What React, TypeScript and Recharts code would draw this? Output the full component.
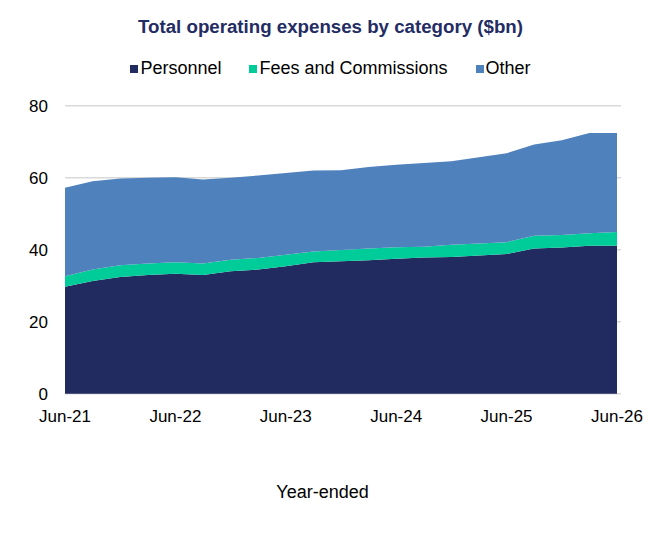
import { AreaChart, Area, XAxis, YAxis, CartesianGrid } from "recharts";

// quarterly, year-ended
const QUARTERS = [
  "Jun-21", "Sep-21", "Dec-21", "Mar-22", "Jun-22", "Sep-22", "Dec-22",
  "Mar-23", "Jun-23", "Sep-23", "Dec-23", "Mar-24", "Jun-24", "Sep-24",
  "Dec-24", "Mar-25", "Jun-25", "Sep-25", "Dec-25", "Mar-26", "Jun-26",
];
const PERSONNEL = [29.7, 31.3, 32.4, 33.0, 33.3, 33.0, 34.0, 34.5, 35.4, 36.5, 36.8, 37.1, 37.5, 37.8, 38.0, 38.4, 38.8, 40.3, 40.6, 41.1, 41.1];
const FEES = [2.9, 3.2, 3.3, 3.2, 3.2, 3.2, 3.2, 3.2, 3.2, 3.0, 3.1, 3.2, 3.2, 3.0, 3.4, 3.3, 3.3, 3.6, 3.5, 3.5, 3.8];
const OTHER = [24.6, 24.5, 24.1, 23.8, 23.6, 23.3, 22.8, 22.9, 22.7, 22.5, 22.2, 22.7, 22.9, 23.3, 23.2, 24.0, 24.7, 25.3, 26.3, 27.8, 27.5];
const Y_TICKS = [0, 20, 40, 60, 80];

const SERIES = [
  { key: "Personnel", color: "#222B60" },
  { key: "Fees and Commissions", color: "#00CC99" },
  { key: "Other", color: "#4F81BD" },
];

const FONT = '"Liberation Sans", Arial, sans-serif';

const data = QUARTERS.map((q, i) => ({
  quarter: q,
  Personnel: PERSONNEL[i],
  "Fees and Commissions": FEES[i],
  Other: OTHER[i],
}));

export default function App() {
  return (
    <div style={{ position: "absolute", left: 0, top: 0, width: 661, height: 536, background: "#fff", fontFamily: FONT }}>
      <div
        style={{
          position: "absolute", top: 17.5, left: 0, width: 661, textAlign: "center",
          fontSize: 18.7, lineHeight: "18.7px", fontWeight: "bold", color: "#232C63",
        }}
      >
        Total operating expenses by category ($bn)
      </div>
      <div
        style={{
          position: "absolute", top: 59, left: 0, width: 661, display: "flex",
          justifyContent: "center", gap: 28, fontSize: 18, lineHeight: "18px", color: "#000",
        }}
      >
        {SERIES.map((s) => (
          <div key={s.key} style={{ display: "flex", alignItems: "center" }}>
            <span style={{ width: 8, height: 8, background: s.color, marginRight: 2, marginTop: 1 }} />
            <span>{s.key}</span>
          </div>
        ))}
      </div>

      <AreaChart
        width={661}
        height={536}
        data={data}
        margin={{ top: 105.7, right: 40, bottom: 112.3, left: 0 }}
      >
        <CartesianGrid vertical={false} stroke="#D9D9D9" strokeWidth={1.5} />
        <YAxis
          width={65}
          domain={[0, 80]}
          ticks={Y_TICKS}
          axisLine={false}
          tickLine={false}
          tickSize={0}
          tickMargin={17}
          tick={{ fontSize: 17, fill: "#000", fontFamily: FONT }}
        />
        <XAxis
          dataKey="quarter"
          height={30}
          interval={3}
          padding={{ left: 0, right: 4 }}
          axisLine={false}
          tickLine={false}
          tickSize={0}
          tickMargin={16.5}
          tick={{ fontSize: 17, fill: "#000", fontFamily: FONT }}
        />
        {SERIES.map((s) => (
          <Area
            key={s.key}
            type="linear"
            dataKey={s.key}
            stackId="1"
            stroke="none"
            fill={s.color}
            fillOpacity={1}
            isAnimationActive={false}
          />
        ))}
      </AreaChart>

      <div
        style={{
          position: "absolute", top: 483, left: 0, width: 645, textAlign: "center",
          fontSize: 18, lineHeight: "18px", color: "#000",
        }}
      >
        Year-ended
      </div>
    </div>
  );
}
